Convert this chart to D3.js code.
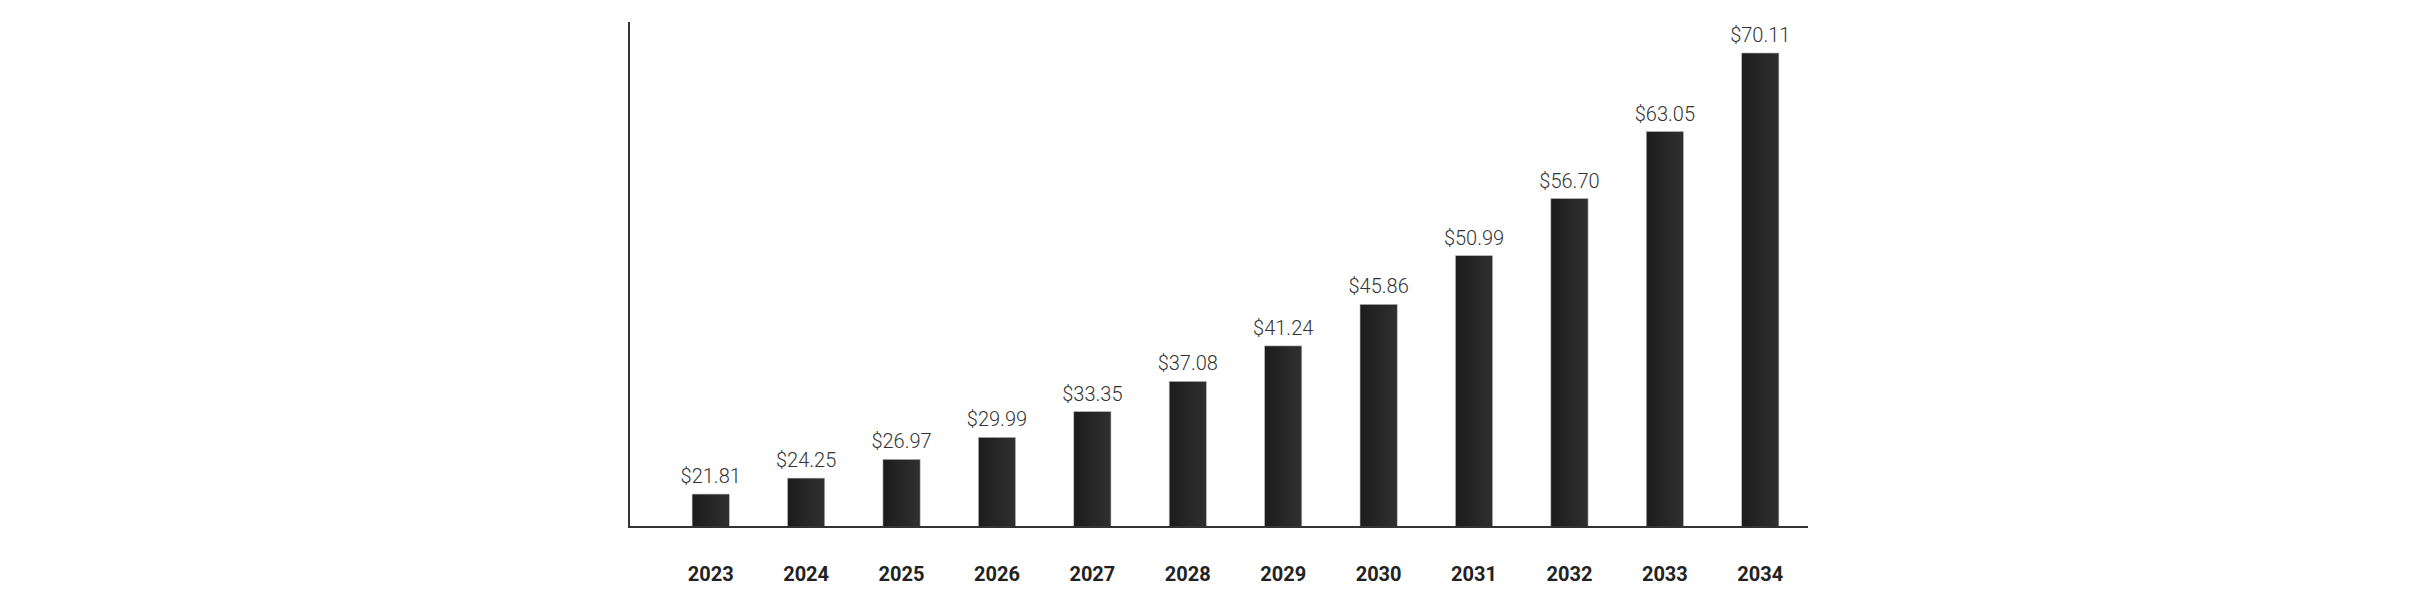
<!DOCTYPE html>
<html>
<head>
<meta charset="utf-8">
<script src="https://cdn.jsdelivr.net/npm/d3@7"></script>
<style>
  body { margin: 0; background: #fff; }
  svg { display: block; font-family: Roboto, sans-serif; }
</style>
</head>
<body>
<div id="chart"></div>
<script>
// Market size by year (USD)
const years = ["2023", "2024", "2025", "2026", "2027", "2028", "2029", "2030", "2031", "2032", "2033", "2034"];
const values = [21.81, 24.25, 26.97, 29.99, 33.35, 37.08, 41.24, 45.86, 50.99, 56.70, 63.05, 70.11];

const width = 2434;
const height = 610;
const baseY = 527;

const svg = d3.select("#chart")
  .append("svg")
  .attr("width", width)
  .attr("height", height);

// Bar gradient: slightly lighter on the right
const grad = svg.append("defs").append("linearGradient")
  .attr("id", "barGrad")
  .attr("x1", "0%").attr("x2", "100%");
grad.append("stop").attr("offset", "0%").attr("stop-color", "#1c1c1c");
grad.append("stop").attr("offset", "100%").attr("stop-color", "#303030");

const x = d3.scaleBand()
  .domain(years)
  .range([663, 1808])
  .paddingInner(0.61)
  .paddingOuter(0.305);

// The original exaggerates growth, so a power scale follows the bar heights
const y = d3.scalePow()
  .exponent(1.5)
  .domain([16.27, d3.max(values)])
  .range([baseY, 53]);

const data = years.map((yr, i) => ({ year: yr, value: values[i] }));

svg.selectAll(".bar")
  .data(data)
  .join("rect")
  .attr("class", "bar")
  .attr("x", d => x(d.year))
  .attr("y", d => y(d.value))
  .attr("width", x.bandwidth())
  .attr("height", d => baseY - y(d.value))
  .attr("fill", "url(#barGrad)")
  .attr("stroke", "#bbb")
  .attr("stroke-width", 0.6);

svg.selectAll(".val")
  .data(data)
  .join("text")
  .attr("class", "val")
  .attr("x", d => x(d.year) + x.bandwidth() / 2)
  .attr("y", d => y(d.value) - 11)
  .attr("text-anchor", "middle")
  .attr("font-size", 20)
  .attr("font-weight", 300)
  .attr("fill", "#333")
  .text(d => "$" + d.value.toFixed(2));

svg.selectAll(".yr")
  .data(data)
  .join("text")
  .attr("class", "yr")
  .attr("x", d => x(d.year) + x.bandwidth() / 2)
  .attr("y", 581)
  .attr("text-anchor", "middle")
  .attr("font-size", 20)
  .attr("font-weight", 700)
  .attr("fill", "#222")
  .text(d => d.year);

// Axes lines
svg.append("line")
  .attr("x1", 629).attr("x2", 629)
  .attr("y1", 22).attr("y2", baseY)
  .attr("stroke", "#333").attr("stroke-width", 2);
svg.append("line")
  .attr("x1", 628).attr("x2", 1808)
  .attr("y1", baseY).attr("y2", baseY)
  .attr("stroke", "#333").attr("stroke-width", 2);
</script>
</body>
</html>
